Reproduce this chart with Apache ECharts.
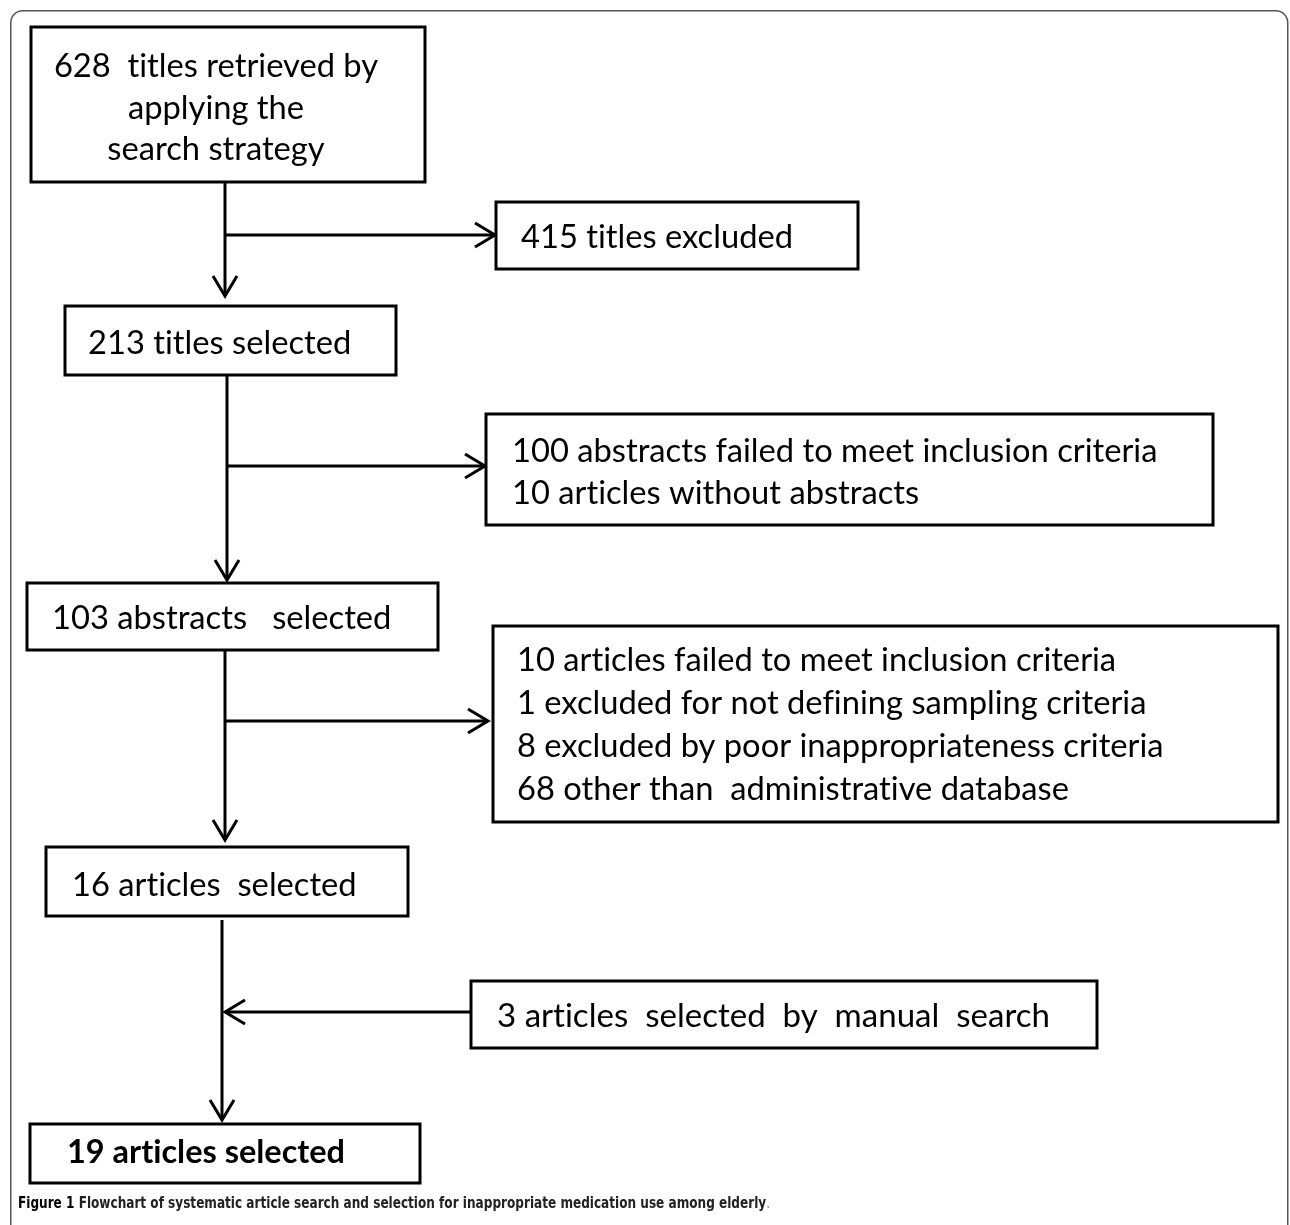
<!DOCTYPE html>
<html><head><meta charset="utf-8">
<script src="https://cdn.jsdelivr.net/npm/echarts@6/dist/echarts.min.js"></script>
<style>html,body{margin:0;padding:0;background:#fff}#c{width:1290px;height:1225px}</style>
</head><body><div id="c"></div>
<script>
// ---------- DATA (texts of the flowchart) ----------
const mainSteps = [
  "628  titles retrieved by\napplying the\nsearch strategy",
  "213 titles selected",
  "103 abstracts   selected",
  "16 articles  selected",
  "19 articles selected"
];
const sideNotes = [
  "415 titles excluded",
  "100 abstracts failed to meet inclusion criteria\n10 articles without abstracts",
  "10 articles failed to meet inclusion criteria\n1 excluded for not defining sampling criteria\n8 excluded by poor inappropriateness criteria\n68 other than  administrative database",
  "3 articles  selected  by  manual  search"
];
const sideDirection = ["out", "out", "out", "in"];
const captionLabel = "Figure 1";
const captionText = " Flowchart of systematic article search and selection for inappropriate medication use among elderly";

// ---------- LAYOUT (axis units = pixels of the hidden 1290 x 1225 plane) ----------
const mainBox = [[31,27,425,182],[65,306,396,375],[27,583,438,650],[46,847,408,916],[30,1124,420,1183]];
const mainText = [{x:216,y:108,align:'center',lh:41.5},{x:88,y:343},{x:52,y:618},{x:72,y:885},{x:67,y:1152,bold:true,fitW:278}];
const sideBox = [[496,202,858,269],[486,414,1213,525],[493,626,1278,822],[471,981,1097,1048]];
const sideText = [{x:521,y:237},{x:512,y:472,lh:42},{x:517,y:725,lh:43},{x:497,y:1016,fitW:553}];
const spineX = [225,227,225,222];
const spineTop = [182,375,650,920];
const spineTip = [296,580,840,1120];
const branchY = [235,466,721,1012];
const branchTip = [495,485,488,225];

const FONT = 'Lato, "Open Sans", sans-serif';
const CAP_FONT = '"Liberation Sans Narrow", "DejaVu Sans Condensed", sans-serif';
const CAP_SIZE = 16.5;
const cv = document.createElement('canvas').getContext('2d');
function tw(s, font){ cv.font = font; return cv.measureText(s).width; }
// break typographic ligatures (ti, fi, ...) so glyphs look like the reference
function noLig(s){ return s.replace(/([tf])([ifl])/g, '$1\u200C$2'); }
const baseSize = Math.round(35 * 645 / tw("100 abstracts failed to meet inclusion criteria", '35px ' + FONT) * 10) / 10;

function textEl(api, t, spec) {
  const p = api.coord([spec.x, spec.y]);
  const weight = spec.bold ? 'bold' : 'normal';
  const font = weight + ' ' + baseSize + 'px ' + FONT;
  const txt = noLig(t);
  let sx = 1;
  if (spec.fitW) sx = spec.fitW / tw(txt, font);
  return {
    type: 'text',
    x: p[0], y: p[1], scaleX: sx, scaleY: 1, originX: 0, originY: 0,
    style: {
      text: txt, fill: '#000', font: font,
      align: spec.align || 'left', verticalAlign: 'middle',
      lineHeight: spec.lh || 42
    }
  };
}
function rectEl(api, b) {
  const a = api.coord([b[0], b[1]]), c = api.coord([b[2], b[3]]);
  return { type: 'rect', shape: { x: a[0], y: a[1], width: c[0]-a[0], height: c[1]-a[1] },
    style: { fill: '#fff', stroke: '#000', lineWidth: 3 } };
}
function arrowHead(tip, dx, dy) {
  const L = 20, W = 12;
  const px = -dy, py = dx;
  return { type: 'polyline', shape: { points: [
      [tip[0]-dx*L+px*W, tip[1]-dy*L+py*W], tip, [tip[0]-dx*L-px*W, tip[1]-dy*L-py*W]] },
    style: { stroke: '#000', lineWidth: 3, fill: null, lineJoin: 'miter' } };
}
function lineEl(a, b) {
  return { type: 'line', shape: { x1: a[0], y1: a[1], x2: b[0], y2: b[1] },
    style: { stroke: '#000', lineWidth: 3 } };
}

// caption: fit to reference width
const capW = tw(captionLabel, 'bold ' + CAP_SIZE + 'px ' + CAP_FONT) + tw(captionText, 'bold ' + CAP_SIZE + 'px ' + CAP_FONT) + tw('.', CAP_SIZE + 'px ' + CAP_FONT);
const capScale = 752 / capW;

const option = {
  animation: false,
  backgroundColor: '#fff',
  grid: { left: 0, right: 0, top: 0, bottom: 0 },
  xAxis: { type: 'value', min: 0, max: 1290, show: false },
  yAxis: { type: 'value', min: 0, max: 1225, inverse: true, show: false },
  graphic: [{
    type: 'rect', left: 10, top: 10, z: -10,
    shape: { width: 1277, height: 1260, r: 12 },
    style: { fill: '#fff', stroke: '#555', lineWidth: 1.5 }
  }, {
    type: 'text', x: 18, y: 1204, scaleX: capScale, originX: 0, originY: 0, z: 10,
    style: {
      text: '{b|' + captionLabel + '}{n|' + captionText + '}{g|.}',
      verticalAlign: 'middle', align: 'left',
      rich: {
        b: { fontFamily: CAP_FONT, fontWeight: 'bold', fontSize: CAP_SIZE, fill: '#000' },
        n: { fontFamily: CAP_FONT, fontWeight: 'bold', fontSize: CAP_SIZE, fill: '#222' },
        g: { fontFamily: CAP_FONT, fontSize: CAP_SIZE, fill: '#888' }
      }
    }
  }],
  series: [
    {
      type: 'custom', name: 'connectors', coordinateSystem: 'cartesian2d',
      data: sideDirection.map((d, i) => ({ value: [i, i], name: d })),
      encode: { x: 0, y: 1 },
      renderItem: function (params, api) {
        const i = params.dataIndex;
        const top = api.coord([spineX[i], spineTop[i]]);
        const tip = api.coord([spineX[i], spineTip[i]]);
        const br = api.coord([spineX[i], branchY[i]]);
        const children = [lineEl(top, tip), arrowHead(tip, 0, 1)];
        if (sideDirection[i] === 'out') {
          const bt = api.coord([branchTip[i], branchY[i]]);
          children.push(lineEl(br, bt), arrowHead(bt, 1, 0));
        } else {
          const start = api.coord([sideBox[i][0], branchY[i]]);
          const bt = api.coord([branchTip[i], branchY[i]]);
          children.push(lineEl(start, bt), arrowHead(bt, -1, 0));
        }
        return { type: 'group', children: children };
      }
    },
    {
      type: 'custom', name: 'main', coordinateSystem: 'cartesian2d',
      data: mainSteps.map((t, i) => ({ value: [i, i], name: t })),
      encode: { x: 0, y: 1 },
      renderItem: function (params, api) {
        const i = params.dataIndex;
        return { type: 'group', children: [rectEl(api, mainBox[i]), textEl(api, mainSteps[i], mainText[i])] };
      }
    },
    {
      type: 'custom', name: 'side', coordinateSystem: 'cartesian2d',
      data: sideNotes.map((t, i) => ({ value: [i, i], name: t })),
      encode: { x: 0, y: 1 },
      renderItem: function (params, api) {
        const i = params.dataIndex;
        return { type: 'group', children: [rectEl(api, sideBox[i]), textEl(api, sideNotes[i], sideText[i])] };
      }
    }
  ]
};
const chart = echarts.init(document.getElementById('c'), null, { renderer: 'canvas', width: 1290, height: 1225 });
chart.setOption(option);
</script>
</body></html>
